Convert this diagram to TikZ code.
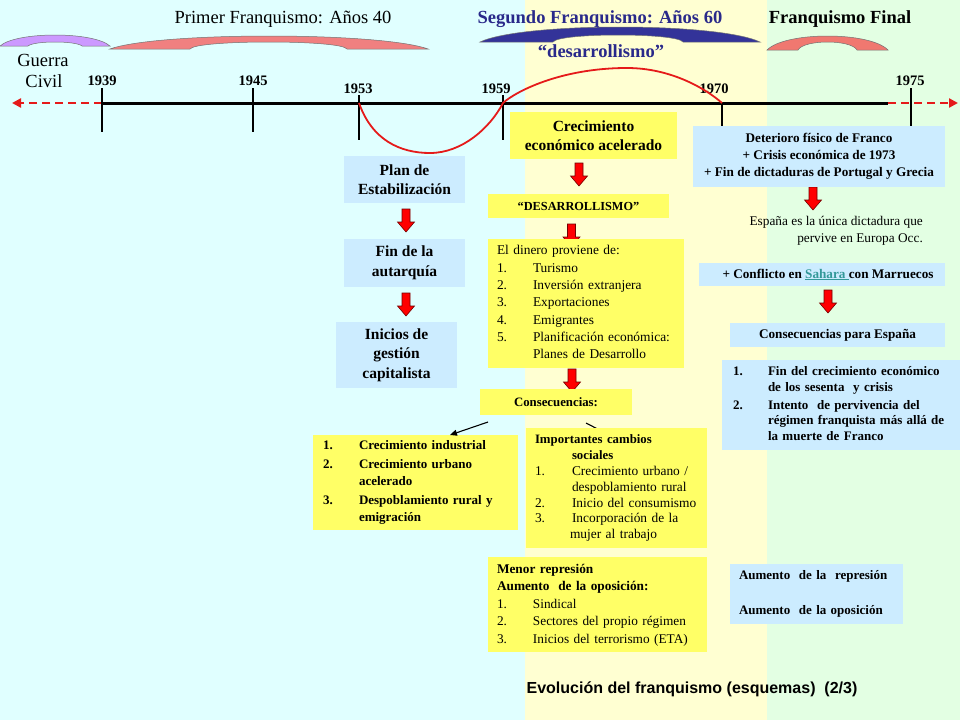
\documentclass[tikz,border=0pt]{standalone}
\usepackage{fontspec}
\setmainfont{Liberation Serif}
\newfontfamily\arialfont{Liberation Sans}
\usetikzlibrary{calc,arrows.meta}
\pgfdeclarelayer{bg}\pgfdeclarelayer{conn}\pgfsetlayers{bg,conn,main}
\definecolor{bgcyan}{HTML}{E0FFFF}
\definecolor{bgyellow}{HTML}{FFFFD2}
\definecolor{bggreen}{HTML}{E3FFE3}
\definecolor{lblue}{HTML}{CCECFF}
\definecolor{yel}{HTML}{FFFF66}
\definecolor{navytext}{HTML}{29298A}
\definecolor{navyfill}{HTML}{333399}
\definecolor{purp}{HTML}{CC99FF}
\definecolor{pinkfill}{HTML}{F08080}
\definecolor{salmonfill}{HTML}{F07870}
\definecolor{tlred}{HTML}{E51A1A}
\definecolor{saharacol}{HTML}{339999}
\newcommand\szL{\fontsize{15.5}{19.5}\selectfont\bfseries}
\newcommand\szM{\fontsize{13.2}{17}\selectfont\bfseries}
\newcommand\szT{\fontsize{18.5}{22}\selectfont}
\newcommand\numlab[2][36pt]{\makebox[#1][l]{#2}}
\newcommand\bridge[8]{%
  \pgfmathsetmacro\brW{#2-#1}%
  \pgfmathsetmacro\brC{(#4-0.25*#3)/0.75}%
  \pgfmathsetmacro\brI{(#7-0.25*#3)/0.75}%
  \filldraw[fill=#8, draw=black!55, line width=0.5pt] (#1,#3) .. controls ({#1+0.15*\brW},\brC) and ({#2-0.15*\brW},\brC) .. (#2,#3) -- (#6,#3) .. controls ({#6-6},\brI) and ({#5+6},\brI) .. (#5,#3) -- cycle;}
\newcommand\blockarr[1]{\path[blockarrow] ($#1$) +(-4,0) -- +(4,0) -- +(4,13) -- +(8.5,13) -- +(0,23) -- +(-8.5,13) -- +(-4,13) -- cycle;}
\begin{document}
\begin{tikzpicture}[x=1pt,y=-1pt,
  box/.style={inner sep=0pt, outer sep=0pt},
  lb/.style={box, fill=lblue},
  yb/.style={box, fill=yel},
  yearlab/.style={anchor=base, inner sep=0pt, font=\fontsize{14.5}{17}\selectfont\bfseries},
  tick/.style={line width=2.5pt},
  tldash/.style={draw=tlred, line width=2.5pt, dash pattern=on 8pt off 5pt, -{Triangle[length=9pt,width=9pt]}},
  blockarrow/.style={fill=red, draw=red!45!black, line width=0.6pt},
  thinarr/.style={draw=black, line width=1.1pt, -{Triangle[length=7pt,width=6pt]}}]
\useasboundingbox (0,0) rectangle (960,720);
\begin{pgfonlayer}{bg}
\fill[bgcyan] (0,0) rectangle (525,720);
\fill[bgyellow] (525,0) rectangle (767,720);
\fill[bggreen] (767,0) rectangle (960,720);
\end{pgfonlayer}
% brackets
\bridge{0}{110}{46}{35}{28}{82}{42}{purp}
\bridge{110}{428}{49}{36}{190}{347}{42}{pinkfill}
\bridge{480}{760}{42}{27}{553}{683}{35}{navyfill}
\bridge{767}{888}{50}{36}{798}{857}{42}{salmonfill}
% titles
\node[anchor=base, inner sep=0pt, font=\szT] (tprim) at (283,23) {Primer Franquismo: Años 40};
\node[anchor=base, inner sep=0pt, font=\szT\bfseries, text=navytext] (tseg) at (600,23) {Segundo Franquismo: Años 60};
\node[anchor=base, inner sep=0pt, font=\szT\bfseries] (tfinal) at (840,23) {Franquismo Final};
\node[anchor=base, inner sep=0pt, font=\szT\bfseries, text=navytext] (tdes) at (601,57) {“desarrollismo”};
\node[anchor=base, inner sep=0pt, font=\szT] (tguerra) at (43,66) {Guerra};
\node[anchor=base, inner sep=0pt, font=\szT] (tcivil) at (44,87) {Civil};
% years
\node[yearlab] (y1939) at (102,85) {1939};
\node[yearlab] (y1945) at (253,85) {1945};
\node[yearlab] (y1953) at (358,93) {1953};
\node[yearlab] (y1959) at (496,93) {1959};
\node[yearlab] (y1970) at (714,93) {1970};
\node[yearlab] (y1975) at (910,85) {1975};
% timeline
\draw[line width=3pt] (102,103) -- (888,103);
\draw[tldash] (102,103) -- (12,103);
\draw[tldash] (888,103) -- (958,103);
\draw[tick] (102,88) -- (102,132);
\draw[tick] (253,88) -- (253,132);
\draw[tick] (359,95) -- (359,140);
\draw[tick] (503,95) -- (503,140);
\draw[tick] (722,103) -- (722,126);
\draw[tick] (911,88) -- (911,126);
\draw[tlred, line width=1.8pt] (359,103) .. controls (372,140) and (400,153) .. (430,153) .. controls (462,153) and (490,128) .. (503,103) .. controls (515,92) and (560,68) .. (627,68) .. controls (670,68) and (705,88) .. (722,103);
% left column
\node[lb, minimum width=121, minimum height=47, align=center, font=\szL] (plan) at (404.5,179.5) {Plan de\\Estabilización};
\node[lb, minimum width=121, minimum height=48, align=center, font=\szL] (fin) at (404.5,263) {Fin de la\\autarquía};
\node[lb, minimum width=121, minimum height=66, align=center, font=\szL] (ini) at (396.5,355) {Inicios de\\gestión\\capitalista};
% middle column
\node[yb, minimum width=167, minimum height=47, align=center, font=\szL] (crec) at (593.5,135.5) {Crecimiento\\económico acelerado};
\node[yb, minimum width=181, minimum height=24, font=\fontsize{12.3}{15}\selectfont\bfseries] (desa) at (578.5,206) {“DESARROLLISMO”};
\node[yb, minimum width=196, minimum height=129, inner xsep=9pt, text width=178pt, align=left, font=\fontsize{13.4}{17.33}\selectfont] (dinero) at (586,303.5) {\begin{tabular}{@{}l@{}}
El dinero proviene de:\\
\numlab{1.}Turismo\\
\numlab{2.}Inversión extranjera\\
\numlab{3.}Exportaciones\\
\numlab{4.}Emigrantes\\
\numlab{5.}Planificación económica:\\
\numlab{}Planes de Desarrollo
\end{tabular}};
\node[yb, minimum width=152, minimum height=26, font=\fontsize{12.8}{15}\selectfont\bfseries] (conseq) at (556,402) {Consecuencias:};
\node[yb, minimum width=205, minimum height=95, inner xsep=10pt, text width=185pt, align=left, font=\fontsize{13}{17}\selectfont\bfseries] (lista) at (415.5,482.5) {\begin{tabular}{@{}l@{}}
\numlab{1.}Crecimiento industrial\\[2pt]
\numlab{2.}Crecimiento urbano\\
\numlab{}acelerado\\[2pt]
\numlab{3.}Despoblamiento rural y\\
\numlab{}emigración
\end{tabular}};
\node[yb, minimum width=181, minimum height=120, inner xsep=9pt, text width=163pt, align=left, font=\fontsize{13.4}{15.83}\selectfont] (impo) at (616.5,488) {\begin{tabular}{@{}l@{}}
{\fontsize{12.8}{15.83}\selectfont\bfseries Importantes cambios}\\
\numlab[37pt]{}{\fontsize{12.8}{15.83}\selectfont\bfseries sociales}\\
\numlab[37pt]{1.}Crecimiento urbano /\\
\numlab[37pt]{}despoblamiento rural\\
\numlab[37pt]{2.}Inicio del consumismo\\
\numlab[37pt]{3.}Incorporación de la\\
\numlab[35pt]{}mujer al trabajo
\end{tabular}};
\node[yb, minimum width=219, minimum height=95, inner xsep=9pt, text width=201pt, align=left, font=\fontsize{13.3}{17.5}\selectfont] (menor) at (597.5,604.5) {\begin{tabular}{@{}l@{}}
{\bfseries Menor represión}\\
{\bfseries Aumento\ \ de la oposición:}\\
\numlab{1.}Sindical\\
\numlab{2.}Sectores del propio régimen\\
\numlab{3.}Inicios del terrorismo (ETA)
\end{tabular}};
% right column
\node[lb, minimum width=252, minimum height=61, align=center, font=\szM] (deter) at (819,156.5) {Deterioro físico de Franco\\+ Crisis económica de 1973\\+ Fin de dictaduras de Portugal y Grecia};
\node[anchor=east, inner sep=0pt, align=right, font=\fontsize{13.3}{17}\selectfont] (espana) at (923,230.5) {España es la única dictadura que\\pervive en Europa Occ.};
\node[lb, minimum width=246, minimum height=23, font=\szM] (confl) at (822,274.5) {\hspace*{12pt}+ Conflicto en \textcolor{saharacol}{\underline{Sahara\ }}con Marruecos};
\node[lb, minimum width=215, minimum height=24, font=\szM] (cpe) at (837.5,335) {Consecuencias para España};
\node[lb, minimum width=238, minimum height=90, inner xsep=11pt, text width=216pt, align=left, font=\fontsize{13}{15.7}\selectfont\bfseries] (rlist) at (841,405) {\begin{tabular}{@{}l@{}}
\numlab[35pt]{1.}Fin del crecimiento económico\\
\numlab[35pt]{}de los sesenta\ \ y crisis\\[2pt]
\numlab[35pt]{2.}Intento\ \ de pervivencia del\\
\numlab[35pt]{}régimen franquista más allá de\\
\numlab[35pt]{}la muerte de Franco
\end{tabular}};
\node[lb, minimum width=173, minimum height=60, inner xsep=9pt, text width=155pt, align=left, font=\fontsize{13}{17}\selectfont\bfseries] (aum) at (816.5,594) {\begin{tabular}{@{}l@{}}
Aumento\ \ de la\ \ represión\\[18pt]
Aumento\ \ de la oposición
\end{tabular}};
% footer
\node[anchor=base, inner sep=0pt, font=\arialfont\bfseries\fontsize{16}{19}\selectfont] (foot) at (692,693) {Evolución del franquismo (esquemas)\ \ (2/3)};
% connectors
\draw[thinarr] ($(conseq.south west)+(8,7)$) -- ($(lista.north west)+(137,0)$);
\begin{pgfonlayer}{conn}
\draw[thinarr] ($(conseq.south west)+(106,8)$) -- ($(impo.north west)+(89,10)$);
\blockarr{(plan.south)+(1.5,6)}
\blockarr{(fin.south)+(1.5,6)}
\blockarr{(crec.south)+(-14.5,4)}
\blockarr{(desa.south)+(-7,6)}
\blockarr{(dinero.south)+(-14,1)}
\blockarr{(deter.south)+(-6,0)}
\blockarr{(confl.south)+(6,4)}
\end{pgfonlayer}
\end{tikzpicture}
\end{document}
